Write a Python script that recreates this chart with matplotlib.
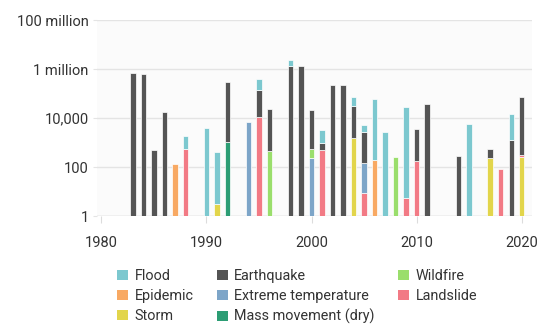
import matplotlib
matplotlib.use("Agg")
import matplotlib.pyplot as plt
import numpy as np
from matplotlib.patches import Patch

plt.rcParams['font.family'] = ['Roboto', 'DejaVu Sans']

# years that have at least one disaster
years = [1983, 1984, 1985, 1986, 1987, 1988, 1990, 1991, 1992, 1994,
         1995, 1996, 1998, 1999, 2000, 2001, 2002, 2003, 2004, 2005,
         2006, 2007, 2008, 2009, 2010, 2011, 2014, 2015, 2017, 2018,
         2019, 2020]

# values per disaster type, aligned with years (0 = none)
mass_movement = [0, 0, 0, 0, 0, 0, 0, 0, 1080, 0,
                 0, 0, 0, 0, 0, 0, 0, 0, 0, 0,
                 0, 0, 0, 0, 0, 0, 0, 0, 0, 0,
                 0, 0]
storm = [0, 0, 0, 0, 0, 0, 0, 3, 0, 0,
         0, 0, 0, 0, 0, 0, 0, 0, 1480, 0,
         0, 0, 0, 0, 0, 0, 0, 0, 246, 0,
         0, 265]
landslide = [0, 0, 0, 0, 0, 525, 0, 0, 0, 0,
             11300, 0, 0, 0, 0, 495, 0, 0, 0, 8.4,
             0, 0, 0, 5.3, 176, 0, 0, 0, 0, 80,
             0, 60]
extreme_temp = [0, 0, 0, 0, 0, 0, 0, 0, 0, 6640,
                0, 0, 0, 0, 240, 0, 0, 0, 0, 133,
                0, 0, 0, 0, 0, 0, 0, 0, 0, 0,
                0, 0]
epidemic = [0, 0, 0, 0, 130, 0, 0, 0, 0, 0,
            0, 0, 0, 0, 0, 0, 0, 0, 0, 0,
            193, 0, 0, 0, 0, 0, 0, 0, 0, 0,
            0, 0]
wildfire = [0, 0, 0, 0, 0, 0, 0, 0, 0, 0,
            0, 450, 0, 0, 285, 0, 0, 0, 0, 0,
            0, 0, 265, 0, 0, 0, 0, 0, 0, 0,
            0, 0]
earthquake = [700000, 630000, 490, 18000, 0, 0, 0, 0, 299000, 0,
              127000, 22850, 1320000, 1320000, 20700, 485, 222000, 222000, 30300, 2480,
              0, 0, 0, 0, 3280, 36000, 280, 0, 280, 0,
              1260, 73700]
flood = [0, 0, 0, 0, 0, 1325, 3800, 417, 0, 0,
         242000, 0, 1000000, 0, 0, 2250, 0, 0, 42000, 2530,
         57800, 2770, 0, 29000, 0, 0, 0, 5500, 0, 0,
         12800, 0]

colors = {
    "Flood": "#7cc8cf",
    "Earthquake": "#545454",
    "Wildfire": "#9ade6c",
    "Epidemic": "#f8a963",
    "Extreme temperature": "#7da5c8",
    "Landslide": "#f27a85",
    "Storm": "#e2d54b",
    "Mass movement (dry)": "#2c9d74",
}

# stacking order, bottom to top
stack = [("Mass movement (dry)", mass_movement), ("Storm", storm),
         ("Landslide", landslide), ("Extreme temperature", extreme_temp),
         ("Epidemic", epidemic), ("Wildfire", wildfire),
         ("Earthquake", earthquake), ("Flood", flood)]

fig = plt.figure(figsize=(5.43, 3.24), dpi=100)
ax = fig.add_axes([0.179, 0.333, 0.801, 0.605])
ax.set_facecolor("#fbfbfb")

x = np.array(years)
bottom = np.zeros(len(years))
for name, vals in stack:
    v = np.array(vals, dtype=float)
    m = v > 0
    ax.bar(x[m], v[m], bottom=bottom[m], width=0.5, color=colors[name],
           edgecolor="white", linewidth=0.5, zorder=3)
    bottom = bottom + v

ax.set_yscale("log")
ax.set_ylim(1, 1e8)
ax.set_xlim(1979.6, 2021.0)
ax.set_yticks([1, 1e2, 1e4, 1e6, 1e8])
ax.set_yticklabels(["1", "100", "10,000", "1 million", "100 million"])
ax.minorticks_off()
ax.set_xticks([1980, 1990, 2000, 2010, 2020])

ax.grid(axis="y", color="#e4e4e4", linewidth=1, zorder=0)
for s in ax.spines.values():
    s.set_visible(False)
ax.axhline(1, color="#dcdcdc", linewidth=1, zorder=2)
ax.tick_params(axis="y", length=3, color="#e4e4e4", labelsize=10.5,
               labelcolor="#333333", pad=3)
ax.tick_params(axis="x", length=5, color="#dcdcdc", labelsize=10.5,
               labelcolor="#333333", pad=9)

# legend filled column by column so it reads row by row
order = ["Flood", "Epidemic", "Storm", "Earthquake", "Extreme temperature",
         "Mass movement (dry)", "Wildfire", "Landslide"]
handles = [Patch(facecolor=colors[n], label=n) for n in order]
fig.legend(handles=handles, ncol=3, loc="upper left",
           bbox_to_anchor=(0.216, 0.17), frameon=False, fontsize=10.4,
           handlelength=0.75, handleheight=0.75, handletextpad=0.45,
           columnspacing=1.62, labelspacing=0.42, borderaxespad=0,
           borderpad=0, labelcolor="#333333")

fig.savefig("out.png", dpi=100, facecolor="white")
